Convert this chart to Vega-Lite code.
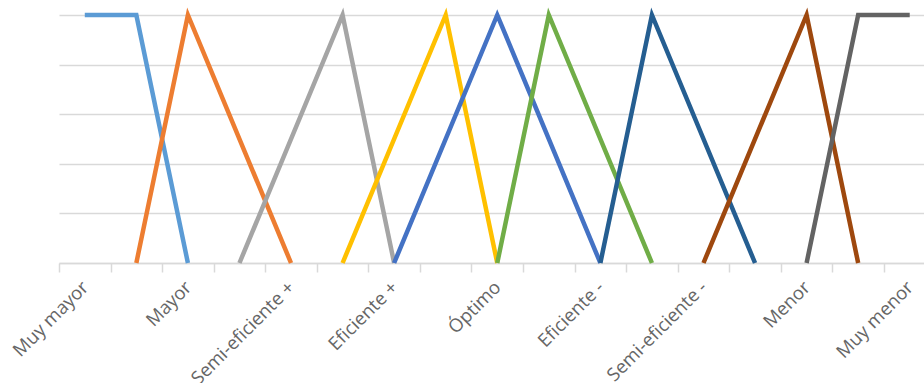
{
  "$schema": "https://vega.github.io/schema/vega-lite/v6.json",
  "width": 865,
  "height": 248,
  "autosize": {"type": "none"},
  "padding": {"left": 59, "top": 15, "right": 0, "bottom": 120},
  "background": "white",
  "config": {"view": {"stroke": null}},
  "data": {"values": [
    {"serie": "Muy mayor", "pos": 0, "valor": 1},
    {"serie": "Muy mayor", "pos": 1, "valor": 1},
    {"serie": "Muy mayor", "pos": 2, "valor": 0},
    {"serie": "Mayor", "pos": 1, "valor": 0},
    {"serie": "Mayor", "pos": 2, "valor": 1},
    {"serie": "Mayor", "pos": 4, "valor": 0},
    {"serie": "Semi-eficiente +", "pos": 3, "valor": 0},
    {"serie": "Semi-eficiente +", "pos": 5, "valor": 1},
    {"serie": "Semi-eficiente +", "pos": 6, "valor": 0},
    {"serie": "Eficiente +", "pos": 5, "valor": 0},
    {"serie": "Eficiente +", "pos": 7, "valor": 1},
    {"serie": "Eficiente +", "pos": 8, "valor": 0},
    {"serie": "Óptimo", "pos": 6, "valor": 0},
    {"serie": "Óptimo", "pos": 8, "valor": 1},
    {"serie": "Óptimo", "pos": 10, "valor": 0},
    {"serie": "Eficiente -", "pos": 8, "valor": 0},
    {"serie": "Eficiente -", "pos": 9, "valor": 1},
    {"serie": "Eficiente -", "pos": 11, "valor": 0},
    {"serie": "Semi-eficiente -", "pos": 10, "valor": 0},
    {"serie": "Semi-eficiente -", "pos": 11, "valor": 1},
    {"serie": "Semi-eficiente -", "pos": 13, "valor": 0},
    {"serie": "Menor", "pos": 12, "valor": 0},
    {"serie": "Menor", "pos": 14, "valor": 1},
    {"serie": "Menor", "pos": 15, "valor": 0},
    {"serie": "Muy menor", "pos": 14, "valor": 0},
    {"serie": "Muy menor", "pos": 15, "valor": 1},
    {"serie": "Muy menor", "pos": 16, "valor": 1}
  ]},
  "mark": {"type": "line", "strokeWidth": 4.5, "strokeJoin": "miter", "strokeCap": "butt"},
  "encoding": {
    "x": {
      "field": "pos",
      "type": "ordinal",
      "title": null,
      "scale": {"type": "band", "domain": [0,1,2,3,4,5,6,7,8,9,10,11,12,13,14,15,16], "range": [0, 876.5], "paddingInner": 0, "paddingOuter": 0},
      "axis": {
        "tickBand": "extent",
        "grid": false,
        "domainColor": "#D9D9D9",
        "domainWidth": 1.5,
        "tickColor": "#D9D9D9",
        "tickWidth": 1.5,
        "tickSize": 9,
        "labelAngle": -45,
        "labelAlign": "right",
        "labelBaseline": "middle",
        "labelPadding": 12,
        "labelFont": "Open Sans",
        "labelFontSize": 18.5,
        "labelColor": "#666666",
        "labelOverlap": false,
        "labelExpr": "['Muy mayor','','Mayor','','Semi-eficiente +','','Eficiente +','','Óptimo','','Eficiente -','','Semi-eficiente -','','Menor','','Muy menor'][datum.value]"
      }
    },
    "y": {
      "field": "valor",
      "type": "quantitative",
      "title": null,
      "scale": {"domain": [0, 1]},
      "axis": {
        "values": [0, 0.2, 0.4, 0.6, 0.8, 1],
        "domain": false,
        "ticks": false,
        "labels": false,
        "gridColor": "#D9D9D9",
        "gridWidth": 1.5
      }
    },
    "color": {
      "field": "serie",
      "type": "nominal",
      "legend": null,
      "sort": ["Muy mayor", "Mayor", "Semi-eficiente +", "Eficiente +", "Óptimo", "Eficiente -", "Semi-eficiente -", "Menor", "Muy menor"],
      "scale": {
        "domain": ["Muy mayor", "Mayor", "Semi-eficiente +", "Eficiente +", "Óptimo", "Eficiente -", "Semi-eficiente -", "Menor", "Muy menor"],
        "range": ["#5B9BD5", "#ED7D31", "#A5A5A5", "#FFC000", "#4472C4", "#70AD47", "#255E91", "#9E480E", "#636363"]
      }
    }
  }
}
